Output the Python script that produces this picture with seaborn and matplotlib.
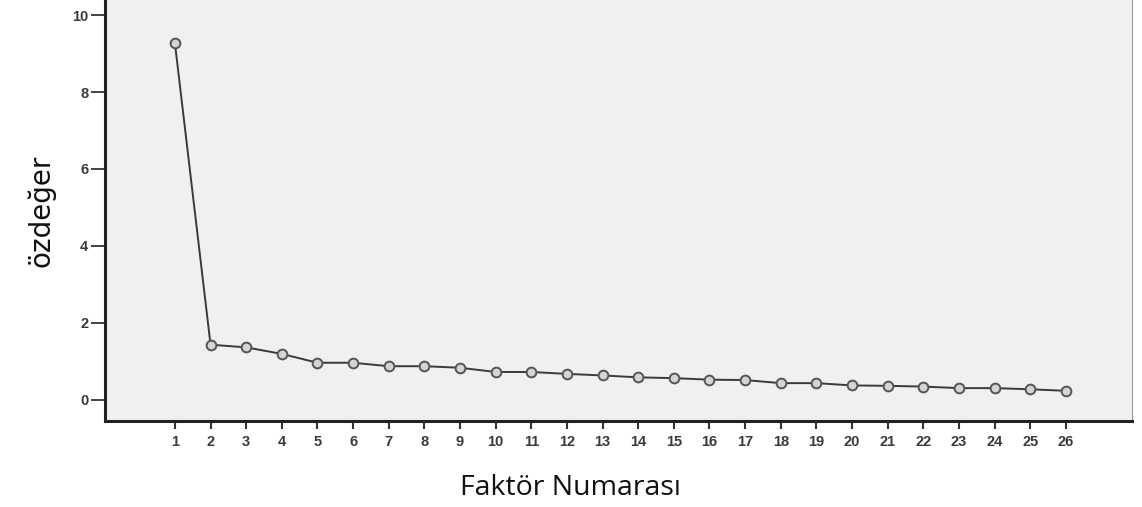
import matplotlib
matplotlib.use("Agg")
import matplotlib.pyplot as plt
import seaborn as sns
import pandas as pd

# scree plot values
faktor = list(range(1, 27))
ozdeger = [9.27, 1.43, 1.36, 1.19, 0.96, 0.96, 0.87, 0.87, 0.83, 0.72,
           0.72, 0.67, 0.63, 0.58, 0.56, 0.52, 0.51, 0.43, 0.43, 0.37,
           0.36, 0.34, 0.30, 0.30, 0.27, 0.23]
y_ticks = [0, 2, 4, 6, 8, 10]

df = pd.DataFrame({"faktor": faktor, "ozdeger": ozdeger})

sns.set_style("ticks")
plt.rcParams["font.family"] = ["Liberation Sans", "DejaVu Sans"]

fig = plt.figure(figsize=(11.42, 5.07), dpi=100)
ax = fig.add_axes([0.092, 0.170, 0.899, 0.832])
ax.set_facecolor("#f0f0f0")

sns.lineplot(data=df, x="faktor", y="ozdeger", ax=ax,
             color="#3a3a3a", lw=1.4, marker="o", markersize=7,
             markerfacecolor="#d4d4d4", markeredgecolor="#555555",
             markeredgewidth=1.4)

ax.set_xlim(-0.96, 27.85)
ax.set_ylim(-0.55, 10.42)
ax.set_xticks(faktor)
ax.set_yticks(y_ticks)
ax.tick_params(axis="x", direction="out", length=6, width=1.5,
               color="#333333", labelsize=10.5, labelcolor="#3a3a3a", pad=4)
ax.tick_params(axis="y", direction="out", length=10, width=1.3,
               color="#333333", labelsize=10.5, labelcolor="#3a3a3a", pad=2)
for lab in ax.get_xticklabels() + ax.get_yticklabels():
    lab.set_fontweight("bold")

for side in ["left", "bottom"]:
    ax.spines[side].set_color("#222222")
    ax.spines[side].set_linewidth(2.2)
ax.spines["right"].set_visible(True)
ax.spines["right"].set_color("#999999")
ax.spines["right"].set_linewidth(0.8)
ax.spines["top"].set_visible(False)

ax.set_xlabel("")
ax.set_ylabel("")
fig.text(0.036, 0.585, "özdeğer", rotation=90, ha="center", va="center",
         fontsize=20, family=["DejaVu Sans"], color="#111111")
fig.text(0.5, 0.037, "Faktör Numarası", ha="center", va="center",
         fontsize=20.5, family=["Open Sans", "DejaVu Sans"], color="#111111")

fig.savefig("out.png", dpi=100)
